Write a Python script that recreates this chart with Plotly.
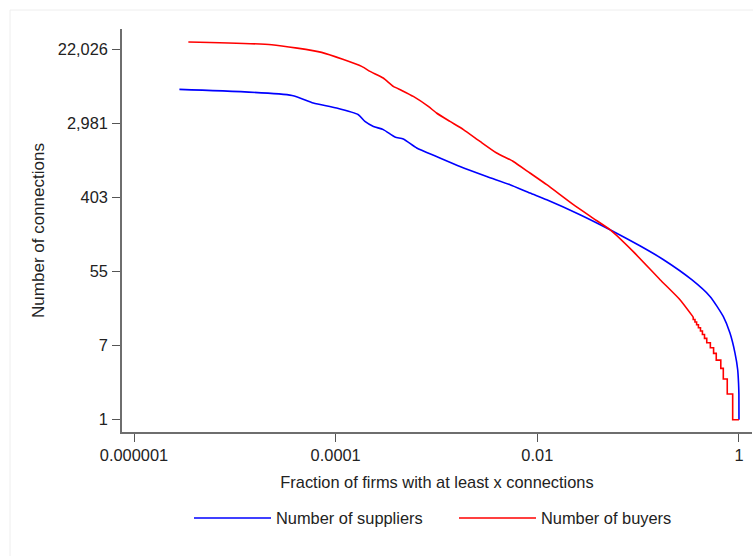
import plotly.graph_objects as go

# ---- data (log-log CCDF) ----
supplier_frac = [2.82e-6, 3.69e-5, 6.0e-5, 1.02e-4, 1.68e-4, 1.95e-4, 2.37e-4, 2.97e-4,
                 3.87e-4, 4.69e-4, 6.37e-4, 1.0e-3, 1.71e-3, 3.15e-3, 5.36e-3, 8.45e-3,
                 0.0124, 0.0265, 0.0526, 0.104, 0.177, 0.34, 0.516, 0.698, 0.814, 0.913,
                 0.971, 0.99, 0.998, 1.0]
supplier_n = [7530, 6405, 5215, 4555, 3800, 3170, 2770, 2540,
              2080, 1970, 1545, 1230, 940, 717, 573, 458,
              382, 255, 170, 110, 76, 44, 28, 16.3, 10.4, 6.06,
              3.86, 2.7, 2, 1]

buyer_frac_top = [3.46e-6, 2.32e-5, 7.26e-5, 1.81e-4, 2.19e-4, 2.96e-4, 3.73e-4, 4.52e-4,
                  5.89e-4, 8.30e-4, 1.0e-3, 1.36e-3, 1.85e-3, 2.70e-3, 3.95e-3, 5.78e-3,
                  8.45e-3, 0.0124, 0.0228, 0.0359, 0.0526, 0.0895, 0.165, 0.260, 0.352]
buyer_n_top = [27140, 25230, 20500, 14030, 12250, 10250, 8170, 7330,
               6235, 4760, 3980, 3170, 2540, 1845, 1350, 1075,
               786, 573, 334, 231, 170, 93.8, 44, 25.6, 16]
# integer-valued tail (stair steps)
buyer_tail_n = [15, 14, 13, 12, 11, 10, 9, 8, 7, 6, 5, 4, 3, 2, 1]
buyer_tail_frac = [0.366, 0.38, 0.396, 0.415, 0.434, 0.455, 0.479, 0.52, 0.56, 0.595,
                   0.66, 0.699, 0.765, 0.866, 1.0]

x_tickvals = [1e-6, 1e-4, 1e-2, 1]
x_ticktext = ["0.000001", "0.0001", "0.01", "1"]
y_tickvals = [1, 7.389056, 54.59815, 403.4288, 2980.958, 22026.47]
y_ticktext = ["1", "7", "55", "403", "2,981", "22,026"]

# stair path for the buyer tail (vertical then horizontal), starting at last smooth point
sx = [buyer_frac_top[-1]]
sy = [buyer_n_top[-1]]
for f, n in zip(buyer_tail_frac, buyer_tail_n):
    sx.append(sx[-1]); sy.append(n)
    sx.append(f); sy.append(n)

FONT = "Liberation Sans, Arial, sans-serif"
TXT = "#222222"
FS = 16.4

fig = go.Figure()
fig.add_trace(go.Scatter(x=supplier_frac, y=supplier_n, mode="lines",
                         name="Number of suppliers",
                         line=dict(color="#0000ff", width=1.6, shape="spline", smoothing=0.6)))
fig.add_trace(go.Scatter(x=buyer_frac_top, y=buyer_n_top, mode="lines",
                         name="Number of buyers", legendgroup="buyers",
                         line=dict(color="#ff0000", width=1.6, shape="spline", smoothing=0.5)))
fig.add_trace(go.Scatter(x=sx, y=sy, mode="lines",
                         name="Number of buyers", legendgroup="buyers", showlegend=False,
                         line=dict(color="#ff0000", width=1.6)))

W, H = 753, 556
L, R, T, B = 122, 1, 29, 124

fig.update_layout(
    width=W, height=H,
    margin=dict(l=L, r=R, t=T, b=B, pad=0),
    paper_bgcolor="white", plot_bgcolor="white",
    font=dict(family=FONT, size=FS, color=TXT),
    showlegend=True,
    legend=dict(orientation="h", x=(194 - 5 - L) / 630, xanchor="left",
                y=(432 - 518.3) / 403, yanchor="middle",
                itemwidth=77, entrywidth=173, entrywidthmode="pixels",
                font=dict(family=FONT, size=FS, color=TXT),
                bgcolor="rgba(0,0,0,0)", borderwidth=0),
    xaxis=dict(type="log", range=[-6.119, 0.1291],
               tickmode="array", tickvals=x_tickvals, ticktext=x_ticktext,
               ticks="outside", ticklen=8, tickwidth=1.3, tickcolor="#555555",
               showline=True, linecolor="#6e6e6e", linewidth=1.6,
               showgrid=False, zeroline=False,
               tickfont=dict(family=FONT, size=FS, color=TXT),
               title=dict(text="Fraction of firms with at least x connections",
                          font=dict(family=FONT, size=FS, color=TXT), standoff=13)),
    yaxis=dict(type="log", range=[-0.1443, 4.586],
               tickmode="array", tickvals=y_tickvals, ticktext=y_ticktext,
               ticks="outside", ticklen=8, tickwidth=1.3, tickcolor="#555555",
               showline=True, linecolor="#6e6e6e", linewidth=1.6,
               showgrid=False, zeroline=False, ticklabelstandoff=1,
               tickfont=dict(family=FONT, size=FS, color=TXT),
               title=dict(text="Number of connections",
                          font=dict(family=FONT, size=17, color=TXT), standoff=9)),
    shapes=[dict(type="rect", xref="paper", yref="paper",
                 x0=(10 - L) / 630, x1=(760 - L) / 630,
                 y0=(432 - 570) / 403, y1=(432 - 10) / 403,
                 line=dict(color="#eeeeee", width=1), fillcolor="rgba(0,0,0,0)",
                 layer="below")],
)

fig.write_html("out.html")
